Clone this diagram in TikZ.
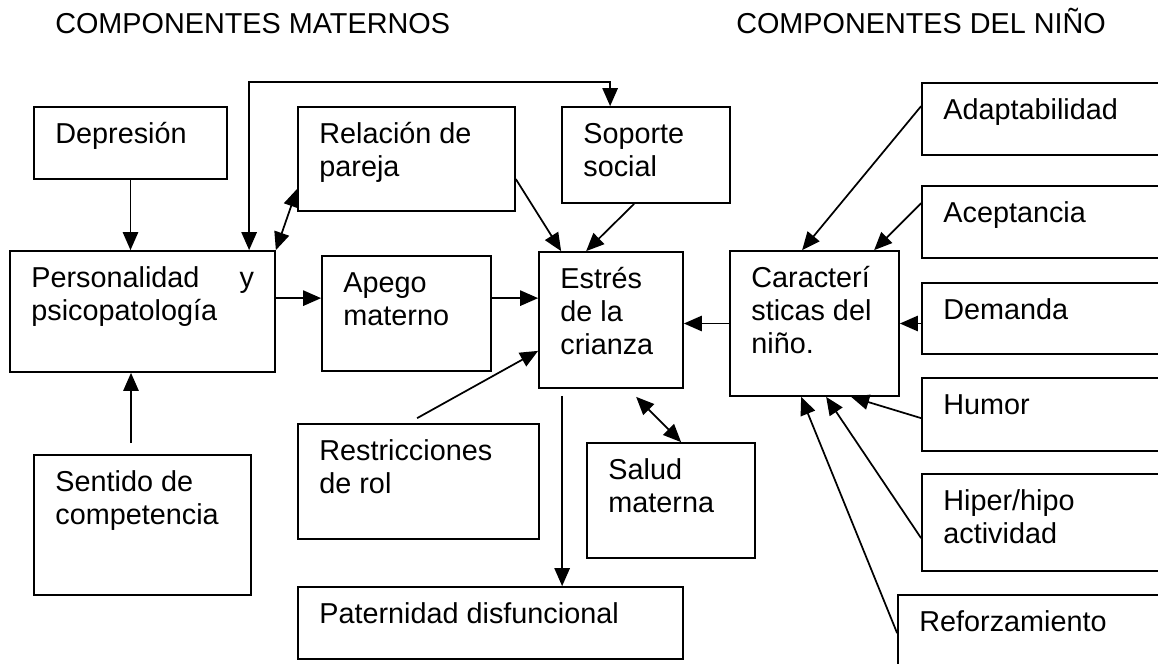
\documentclass[tikz,border=0pt]{standalone}
\usepackage{fontspec}
\setmainfont{Liberation Sans}
\usetikzlibrary{arrows.meta,calc,fit}
\newcommand\tl[1]{\begin{tabular}[t]{@{}l@{}}#1\end{tabular}}
\newcommand\bxn[6]{%
  \node[bx, fit={(#2,#3) (#4,#5)}] (#1) {};
  \node[tx] (#1-t) at ($(#1.north west)+(22,37)$) {\tl{#6}};}
\begin{document}
\begin{tikzpicture}[x=0.75pt,y=-0.75pt,
  bx/.style={draw, line width=1.3pt, inner sep=0pt, rectangle},
  tx/.style={anchor=base west, inner sep=0pt, font=\fontsize{21.6}{24.75}\selectfont},
  ar/.style={line width=1.3pt, -{Triangle[length=13.5pt,width=11.5pt]}},
  arr/.style={line width=1.3pt, {Triangle[length=13.5pt,width=11.5pt]}-{Triangle[length=13.5pt,width=11.5pt]}},
]
\useasboundingbox (0,0) rectangle (1158,664);
\clip (0,0) rectangle (1158,664);
\fill[white] (0,0) rectangle (1158,664);

\node[tx] (t1) at (55,33) {COMPONENTES MATERNOS};
\node[tx] (t2) at (736,33) {COMPONENTES DEL NIÑO};

\bxn{dep}{34}{107}{227}{179}{Depresión}
\bxn{pers}{10}{251}{275}{372}{\hbox to 167pt{Personalidad\hfill y}\\psicopatología}
\bxn{rel}{298}{107}{515}{211}{Relación de\\pareja}
\bxn{sop}{562}{107}{730}{203}{Soporte\\social}
\bxn{apego}{322}{256}{491}{371}{Apego\\materno}
\bxn{est}{539}{252}{683}{388}{Estrés\\de la\\crianza}
\bxn{car}{730}{251}{899}{396}{Caracterí\\sticas del\\niño.}
\bxn{ada}{922}{83}{1175}{155}{Adaptabilidad}
\bxn{ace}{922}{186}{1175}{258}{Aceptancia}
\bxn{dem}{922}{283}{1175}{354}{Demanda}
\bxn{hum}{922}{378}{1175}{451}{Humor}
\bxn{hip}{922}{474}{1175}{571}{Hiper/hipo\\actividad}
\bxn{ref}{898}{595}{1175}{690}{Reforzamiento}
\bxn{sent}{34}{455}{251}{595}{Sentido de\\competencia}
\bxn{res}{298}{424}{539}{539}{Restricciones\\de rol}
\bxn{sal}{587}{443}{755}{558}{Salud\\materna}
\bxn{pat}{298}{587}{683}{659}{Paternidad disfuncional}

% maternal side
\draw[ar] (dep) -- (dep |- pers.north);
\coordinate (s1) at (131,443);
\draw[ar] (s1) -- (s1 |- pers.south);
\draw[arr] ($(pers.north west)+(240,0)$) |- ($(sop.north west)+(49,-24)$) -- ($(sop.north west)+(49,0)$);
\draw[arr] (pers.north east) -- ($(rel.south west)+(0,-23)$);
\draw[ar] ($(pers.north east)+(0,48)$) -- ($(apego.north west)+(0,43)$);
\draw[ar] ($(apego.north east)+(0,43)$) -- ($(est.north west)+(0,47)$);
\draw[ar] ($(rel.north east)+(0,73)$) -- ($(est.north west)+(23,0)$);
\draw[ar] ($(sop.south west)+(73,0)$) -- ($(est.north west)+(48,0)$);
\draw[ar] (car.west) -- (car.west -| est.east);
\draw[ar] ($(res.north west)+(120,-5)$) -- ($(est.south west)+(0,-38)$);
\coordinate (e1) at ($(est.south west)+(24,7)$);
\draw[ar] (e1) -- (e1 |- pat.north);
\draw[arr] ($(est.south west)+(98,8)$) -- ($(sal.north west)+(95,0)$);

% child side
\draw[ar] ($(ada.north west)+(0,24)$) -- ($(car.north west)+(73,0)$);
\draw[ar] ($(ace.north west)+(0,18)$) -- ($(car.north west)+(145,0)$);
\draw[ar] (car.east -| dem.west) -- (car.east);
\draw[ar] ($(hum.north west)+(0,41)$) -- ($(car.south west)+(122,0)$);
\draw[ar] ($(hip.north west)+(0,65)$) -- ($(car.south west)+(97,0)$);
\draw[ar] ($(ref.north west)+(0,39)$) -- ($(car.south west)+(72,0)$);
\end{tikzpicture}
\end{document}
